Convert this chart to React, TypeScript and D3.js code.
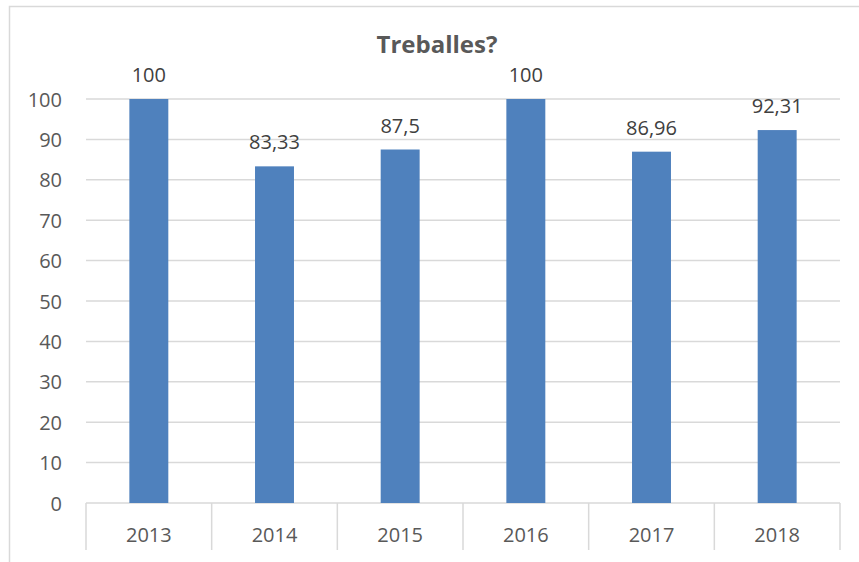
import { useEffect, useRef } from "react";
import * as d3 from "d3";

const YEARS = ["2013", "2014", "2015", "2016", "2017", "2018"];
const VALUES = [100, 83.33, 87.5, 100, 86.96, 92.31];
const VALUE_LABELS = ["100", "83,33", "87,5", "100", "86,96", "92,31"];
const Y_TICKS = [0, 10, 20, 30, 40, 50, 60, 70, 80, 90, 100];

const FONT = "'Open Sans', 'Liberation Sans', sans-serif";
const TEXT = "#595959";
const GRID = "#d9d9d9";

export default function App() {
  const ref = useRef<SVGSVGElement>(null);

  useEffect(() => {
    const el = ref.current;
    if (!el) return;
    const W = 859, H = 562;
    const M = { top: 99, right: 19, bottom: 59, left: 86 };
    const svg = d3.select(el).attr("width", W).attr("height", H).attr("viewBox", `0 0 ${W} ${H}`);
    svg.selectAll("*").remove();

    // chart frame (runs off the bottom/right edge)
    svg.append("rect").attr("x", 9.5).attr("y", 6.5).attr("width", W + 20).attr("height", H + 20)
      .attr("fill", "none").attr("stroke", GRID).attr("stroke-width", 1.5);

    const x = d3.scaleBand<string>().domain(YEARS).range([M.left, W - M.right]).padding(0);
    const y = d3.scaleLinear().domain([0, 100]).range([H - M.bottom, M.top]);

    // gridlines
    svg.append("g").selectAll("line").data(Y_TICKS).join("line")
      .attr("x1", M.left).attr("x2", W - M.right)
      .attr("y1", (d) => y(d)).attr("y2", (d) => y(d))
      .attr("stroke", GRID).attr("stroke-width", 1.5);

    // y labels
    svg.append("g").selectAll("text").data(Y_TICKS).join("text")
      .attr("x", 62).attr("y", (d) => y(d) + 7.5).attr("text-anchor", "end")
      .attr("fill", TEXT).attr("font-family", FONT).attr("font-size", 20).text((d) => d);

    // category separators below the axis
    const edges = [...YEARS.map((d) => x(d) ?? 0), W - M.right];
    svg.append("g").selectAll("line").data(edges).join("line")
      .attr("x1", (d) => d).attr("x2", (d) => d)
      .attr("y1", y(0)).attr("y2", y(0) + 47)
      .attr("stroke", GRID).attr("stroke-width", 1.5);

    const bw = x.bandwidth() * 0.31;
    const data = YEARS.map((k, i) => ({ k, v: VALUES[i], label: VALUE_LABELS[i] }));

    svg.append("g").selectAll("rect").data(data).join("rect")
      .attr("x", (d) => (x(d.k) ?? 0) + x.bandwidth() / 2 - bw / 2)
      .attr("y", (d) => y(d.v)).attr("width", bw).attr("height", (d) => y(0) - y(d.v))
      .attr("fill", "#4f81bd");

    svg.append("g").selectAll("text").data(data).join("text")
      .attr("x", (d) => (x(d.k) ?? 0) + x.bandwidth() / 2).attr("y", (d) => y(d.v) - 17)
      .attr("text-anchor", "middle").attr("fill", "#404040").attr("font-family", FONT)
      .attr("font-size", 20).text((d) => d.label);

    svg.append("g").selectAll("text").data(YEARS).join("text")
      .attr("x", (d) => (x(d) ?? 0) + x.bandwidth() / 2).attr("y", y(0) + 39)
      .attr("text-anchor", "middle").attr("fill", TEXT).attr("font-family", FONT)
      .attr("font-size", 20).text((d) => d);

    svg.append("text").attr("x", 437).attr("y", 53).attr("text-anchor", "middle")
      .attr("fill", TEXT).attr("font-family", FONT).attr("font-weight", "bold")
      .attr("font-size", 24).text("Treballes?");
  }, []);

  return <svg ref={ref} style={{ position: "absolute", left: 0, top: 0 }} role="img" aria-label="Treballes?" />;
}
